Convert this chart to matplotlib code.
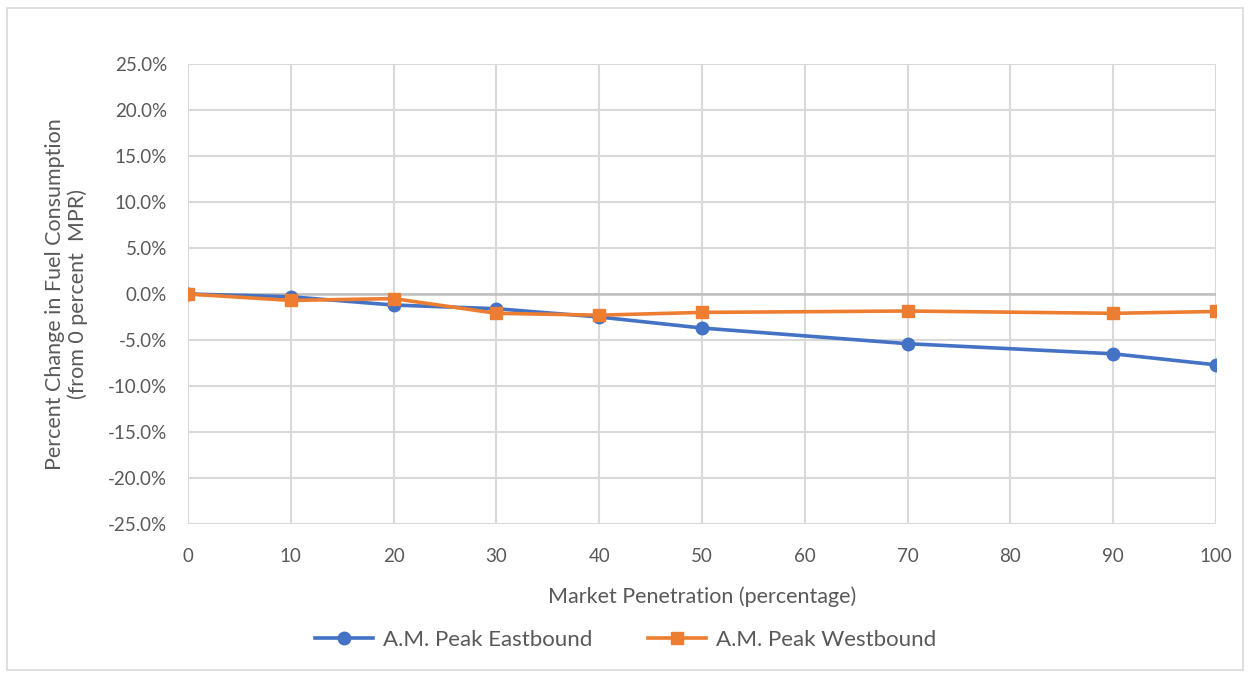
import matplotlib.pyplot as plt
from matplotlib.ticker import FuncFormatter

plt.rcParams['font.family'] = ['Lato', 'DejaVu Sans']

penetration = [0, 10, 20, 30, 40, 50, 70, 90, 100]
eastbound = [0.0, -0.3, -1.2, -1.6, -2.5, -3.7, -5.4, -6.5, -7.7]
westbound = [0.0, -0.7, -0.5, -2.1, -2.3, -2.0, -1.85, -2.1, -1.9]

blue = '#4472C4'
orange = '#ED7D31'
grid_c = '#d9d9d9'
text_c = '#595959'

fig = plt.figure(figsize=(12.51, 6.75), dpi=100)
ax = fig.add_axes([188 / 1251, 1 - 524 / 675, (1216 - 188) / 1251, (524 - 64) / 675])

# outer chart border
fig.patches.append(plt.Rectangle((7 / 1251, 1 - 670 / 675), 1236 / 1251, 662 / 675,
                                 transform=fig.transFigure, fill=False,
                                 edgecolor='#d9d9d9', linewidth=1.2))

ax.plot(penetration, eastbound, color=blue, lw=2.6, marker='o', ms=9,
        label='A.M. Peak Eastbound', zorder=3)
ax.plot(penetration, westbound, color=orange, lw=2.6, marker='s', ms=9,
        label='A.M. Peak Westbound', zorder=4)

ax.set_xlim(0, 100)
ax.set_ylim(-25, 25)
ax.set_xticks(range(0, 101, 10))
ax.set_yticks(range(-25, 26, 5))
ax.yaxis.set_major_formatter(FuncFormatter(lambda v, p: f'{v:.1f}%'))
ax.grid(True, color=grid_c, lw=1.5)
ax.set_axisbelow(True)
for s in ax.spines.values():
    s.set_visible(False)
ax.axhline(0, color='#bfbfbf', lw=1.8, zorder=2)
ax.tick_params(length=0, labelsize=13.5, colors=text_c)
ax.tick_params(axis='y', pad=15)
ax.tick_params(axis='x', pad=17)

ax.set_xlabel('Market Penetration (percentage)', fontsize=15.5, color=text_c, labelpad=16)
ax.set_ylabel('Percent Change in Fuel Consumption\n(from 0 percent  MPR)',
              fontsize=15.5, color=text_c, labelpad=14, linespacing=1.2)

fig.legend(loc='center', bbox_to_anchor=(0.5, 1 - 640 / 675), ncol=2, frameon=False,
           fontsize=16, labelcolor=text_c, handlelength=2.6, handletextpad=0.45,
           columnspacing=2.5)

fig.savefig('out.png', dpi=100)
